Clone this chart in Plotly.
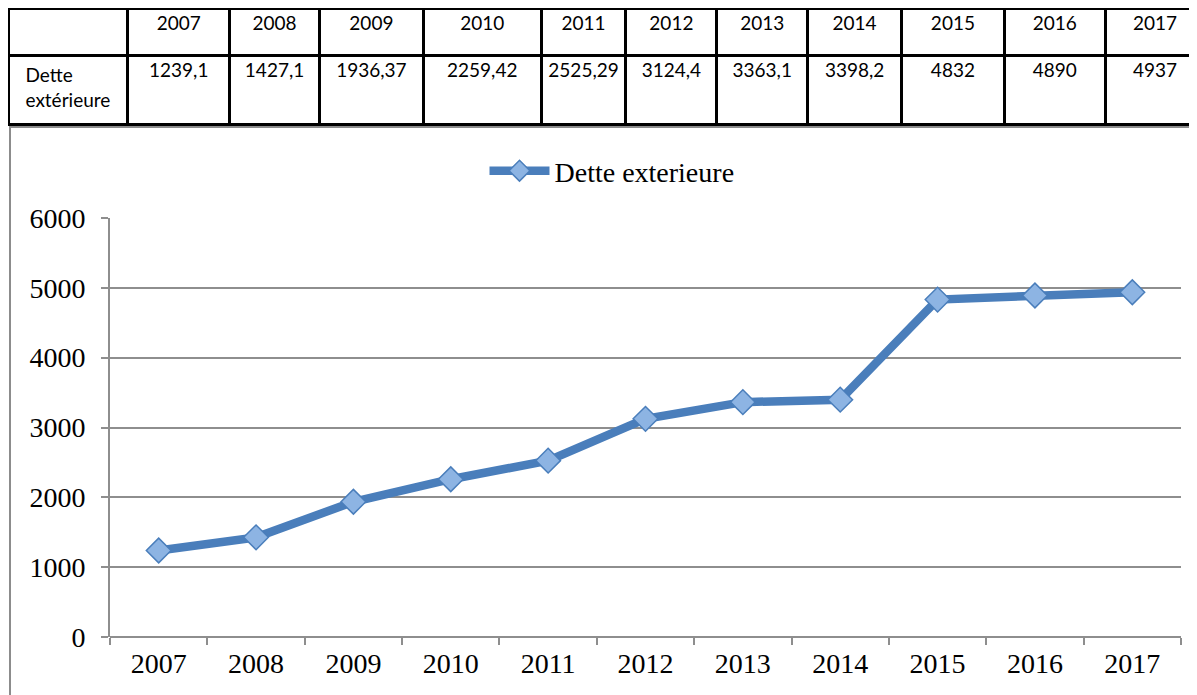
import plotly.graph_objects as go

# data
years = ["2007", "2008", "2009", "2010", "2011", "2012",
         "2013", "2014", "2015", "2016", "2017"]
dette = [1239.1, 1427.1, 1936.37, 2259.42, 2525.29, 3124.4,
         3363.1, 3398.2, 4832, 4890, 4937]
row_label = "Dette<br>extérieure"
series_name = "Dette exterieure"

C_LINE = "#4A7EBB"
C_MARK = "#8DB4E3"
C_GRID = "#8E8E8E"
W, H = 1197, 695
OFF = 8  # the page body margin shifts the figure by 8px


def px_x(p):
    return (p - OFF) / W


def px_y(p):
    return 1 - (p - OFF) / H


# table values, french decimal comma
cell_text = [[row_label]] + [[f"{v:g}".replace(".", ",")] for v in dette]
col_w = [120, 102, 90, 104, 118, 85, 91, 91, 94, 103, 101, 100]

fig = go.Figure()

fig.add_trace(go.Table(
    domain=dict(x=[px_x(8), 1.0], y=[px_y(140), px_y(8)]),
    columnwidth=col_w,
    header=dict(
        values=[""] + years,
        height=47, align="center",
        line=dict(color="black", width=3), fill_color="white",
        font=dict(family="Lato, sans-serif", size=19, color="black"),
    ),
    cells=dict(
        values=cell_text,
        height=69, align="center",
        line=dict(color="black", width=3), fill_color="white",
        font=dict(family="Lato, sans-serif", size=19, color="black"),
    ),
))

fig.add_trace(go.Scatter(
    x=years, y=dette, name=series_name, mode="lines+markers",
    line=dict(color=C_LINE, width=8.5),
    marker=dict(symbol="diamond", size=19, color=C_MARK,
                line=dict(color=C_LINE, width=1.5)),
    showlegend=True,
))

# chart frame under the table
fig.add_shape(type="rect", xref="paper", yref="paper",
              x0=px_x(10), x1=px_x(1215), y0=px_y(715), y1=px_y(127),
              line=dict(color="#8C8C8C", width=2), layer="below")

fig.update_layout(
    width=W, height=H,
    margin=dict(l=0, r=0, t=0, b=0, autoexpand=False),
    paper_bgcolor="white", plot_bgcolor="white",
    font=dict(family="Liberation Serif, serif", size=28, color="black"),
    showlegend=True,
    legend=dict(orientation="h", x=px_x(612), xanchor="center",
                y=px_y(146), yanchor="top",
                font=dict(size=28), itemwidth=60),
    xaxis=dict(
        domain=[px_x(110), px_x(1181)],
        type="category", range=[-0.5, 10.5], showgrid=False,
        showline=False, ticks="outside", tickson="boundaries",
        ticklen=7, tickwidth=2, tickcolor=C_GRID,
        ticklabelstandoff=7,
        tickfont=dict(size=28),
    ),
    yaxis=dict(
        domain=[px_y(637), px_y(218)],
        range=[0, 6000], dtick=1000,
        showgrid=True, gridcolor=C_GRID, gridwidth=2,
        zeroline=True, zerolinecolor=C_GRID, zerolinewidth=2,
        showline=True, linecolor=C_GRID, linewidth=2,
        ticks="outside", ticklen=7, tickwidth=2, tickcolor=C_GRID,
        ticklabelstandoff=10,
        tickfont=dict(size=28),
    ),
)

fig.write_html("out.html")
